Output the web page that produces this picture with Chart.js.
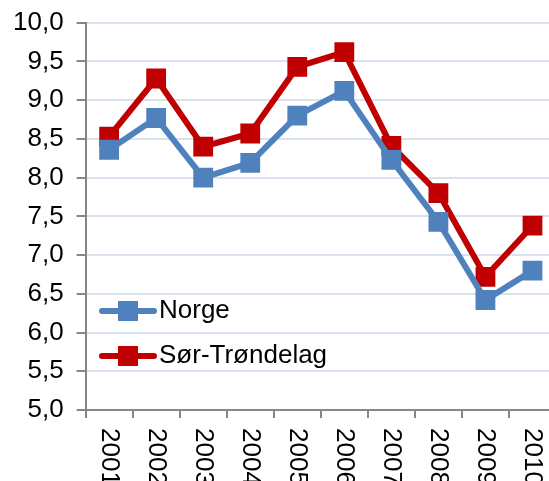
<!DOCTYPE html>
<html>
<head>
<meta charset="utf-8">
<script src="https://cdn.jsdelivr.net/npm/chart.js@4"></script>
<style>
    html, body { margin: 0; padding: 0; background: #ffffff; overflow: hidden; }
    #wrap { width: 570px; height: 481px; }
</style>
</head>
<body>
<div id="wrap"><canvas id="grafico"></canvas></div>
<script>
// dados
const aar = ['2001', '2002', '2003', '2004', '2005', '2006', '2007', '2008', '2009', '2010'];
const norge = [8.36, 8.77, 8.00, 8.19, 8.80, 9.12, 8.23, 7.43, 6.42, 6.80];
const sorTrondelag = [8.53, 9.28, 8.40, 8.57, 9.43, 9.62, 8.41, 7.80, 6.72, 7.38];
const yTicks = [5.0, 5.5, 6.0, 6.5, 7.0, 7.5, 8.0, 8.5, 9.0, 9.5, 10.0];

const fonte = '"Liberation Sans", Arial, sans-serif';

// rótulos do eixo x girados 90° no sentido horário + legenda dentro da área
const extras = {
    id: 'extras',
    afterDraw(chart) {
        const ctx = chart.ctx;
        const x = chart.scales.x;
        ctx.save();
        ctx.fillStyle = '#000000';
        ctx.font = '26px ' + fonte;
        ctx.textAlign = 'left';
        ctx.textBaseline = 'middle';
        aar.forEach((lbl, i) => {
            const px = x.getPixelForValue(i);
            ctx.save();
            ctx.translate(px, 428);
            ctx.rotate(Math.PI / 2);
            ctx.fillText(lbl, 0, 0);
            ctx.restore();
        });

        // legenda
        const itens = [
            { txt: chart.data.datasets[0].label, cor: '#4F81BD', y: 311 },
            { txt: chart.data.datasets[1].label, cor: '#C00000', y: 356 }
        ];
        itens.forEach(it => {
            ctx.strokeStyle = it.cor;
            ctx.lineWidth = 6;
            ctx.lineCap = 'round';
            ctx.beginPath();
            ctx.moveTo(102, it.y);
            ctx.lineTo(154, it.y);
            ctx.stroke();
            ctx.fillStyle = it.cor;
            ctx.fillRect(118, it.y - 10, 20, 20);
            ctx.fillStyle = '#000000';
            ctx.fillText(it.txt, 159, it.y);
        });
        ctx.restore();
    }
};

new Chart(document.getElementById('grafico').getContext('2d'), {
    type: 'line',
    data: {
        labels: aar,
        datasets: [{
            label: 'Norge',
            data: norge,
            borderColor: '#4F81BD',
            backgroundColor: '#4F81BD',
            borderWidth: 6,
            tension: 0,
            pointStyle: 'rect',
            pointRadius: 14,
            pointBorderWidth: 0,
            pointBackgroundColor: '#4F81BD'
        }, {
            label: 'Sør-Trøndelag',
            data: sorTrondelag,
            borderColor: '#C00000',
            backgroundColor: '#C00000',
            borderWidth: 6,
            tension: 0,
            pointStyle: 'rect',
            pointRadius: 14,
            pointBorderWidth: 0,
            pointBackgroundColor: '#C00000'
        }]
    },
    options: {
        responsive: true,
        maintainAspectRatio: false,
        animation: false,
        layout: {
            padding: { left: 0, right: 5, top: 0, bottom: 63 }
        },
        plugins: {
            legend: { display: false },
            tooltip: { enabled: false }
        },
        scales: {
            y: {
                min: 5,
                max: 10,
                afterBuildTicks: (axis) => { axis.ticks = yTicks.map(v => ({ value: v })); },
                ticks: {
                    color: '#000000',
                    padding: 13,
                    font: { family: fonte, size: 26, lineHeight: 0.75 },
                    callback: (v) => Number(v).toFixed(1).replace('.', ',')
                },
                grid: {
                    color: '#D9E3F0',
                    lineWidth: 2,
                    tickColor: '#868686',
                    tickLength: 9
                },
                border: { color: '#868686', width: 2 }
            },
            x: {
                offset: true,
                ticks: { display: false },
                grid: {
                    offset: true,
                    drawOnChartArea: false,
                    tickColor: '#868686',
                    tickLength: 8,
                    lineWidth: 2
                },
                border: { color: '#868686', width: 2 }
            }
        }
    },
    plugins: [extras]
});
</script>
</body>
</html>
